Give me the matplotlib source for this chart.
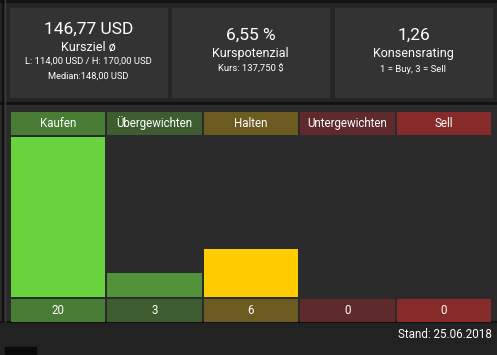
import matplotlib.pyplot as plt
from matplotlib.patches import Rectangle

# Daten
kategorien = ["Kaufen", "Übergewichten", "Halten", "Untergewichten", "Sell"]
anzahl = [20, 3, 6, 0, 0]
bar_farben = ["#68d33c", "#52923a", "#ffcc00", "#5f2a2c", "#862a2a"]
kopf_farben = ["#497c35", "#3d5d30", "#6c5b21", "#5f2a2c", "#862a2a"]

kursziel = "146,77 USD"
spanne = "L: 114,00 USD / H: 170,00 USD"
median = "Median:148,00 USD"
potenzial = "6,55 %"
kurs = "Kurs: 137,750 $"
rating = "1,26"
stand = "Stand: 25.06.2018"

W, H = 497, 355
plt.rcParams['font.family'] = ['Roboto', 'DejaVu Sans']
fig = plt.figure(figsize=(W / 100, H / 100), dpi=100)
fig.patch.set_facecolor("#232323")

# Hintergrund in Pixelkoordinaten
bg = fig.add_axes([0, 0, 1, 1])
bg.set_xlim(0, W)
bg.set_ylim(H, 0)
bg.axis('off')
bg.add_patch(Rectangle((0, 0), W, 103, color="#252525"))
bg.add_patch(Rectangle((0, 103), W, 219, color="#2b2b2b"))
bg.add_patch(Rectangle((0, 322), W, 33, color="#222222"))
bg.plot([0, W], [1, 1], color="#111111", lw=2)
bg.plot([0, W], [103, 103], color="#111111", lw=2)
bg.plot([0, W], [322, 322], color="#111111", lw=1.5)
bg.plot([2.5, 2.5], [0, 322], color="#111111", lw=1.5)
bg.plot([4.5, 4.5], [0, 322], color="#3a3a3a", lw=1)
bg.add_patch(Rectangle((5, 347), 31, 8, color="#0a0a0a"))

# Kennzahl-Boxen
boxen = [
    (10, [(kursziel, 29, 12.5), ("Kursziel ø", 47, 9), (spanne, 61, 6.8), (median, 76, 6.7)]),
    (172, [(potenzial, 35, 12.5), ("Kurspotenzial", 54, 9), (kurs, 69, 6.8)]),
    (335, [(rating, 35, 12.5), ("Konsensrating", 54, 9), ("1 = Buy, 3 = Sell", 69, 6.8)]),
]
for x0, texte in boxen:
    bg.add_patch(Rectangle((x0, 8), 157, 89, color="#333333"))
    for txt, y, fs in texte:
        bg.text(x0 + 78.5, y, txt, color="white", fontsize=fs, ha="center", va="center")

bg.text(492, 335, stand, color="white", fontsize=8.4, ha="right", va="center")

x = range(len(kategorien))

def px_axes(y_top, y_bottom):
    ax = fig.add_axes([10 / W, 1 - y_bottom / H, 482 / W, (y_bottom - y_top) / H])
    ax.set_xlim(-0.5, len(kategorien) - 0.5)
    ax.axis('off')
    return ax

# Kopfzeile
kopf = px_axes(112, 135)
kopf.bar(x, [1] * len(kategorien), width=0.98, color=kopf_farben)
kopf.set_ylim(0, 1)
for i, k in enumerate(kategorien):
    kopf.text(i, 0.5, k, color="white", fontsize=8.3, ha="center", va="center")

# Balken
balken = px_axes(137, 297)
balken.bar(x, anzahl, width=0.98, color=bar_farben)
balken.set_ylim(0, max(anzahl))

# Wertezeile
werte = px_axes(299, 322)
werte.bar(x, [1] * len(kategorien), width=0.98, color=kopf_farben)
werte.set_ylim(0, 1)
for i, n in enumerate(anzahl):
    werte.text(i, 0.5, str(n), color="white", fontsize=8.3, ha="center", va="center")

fig.savefig("out.png", dpi=100, facecolor=fig.get_facecolor())
